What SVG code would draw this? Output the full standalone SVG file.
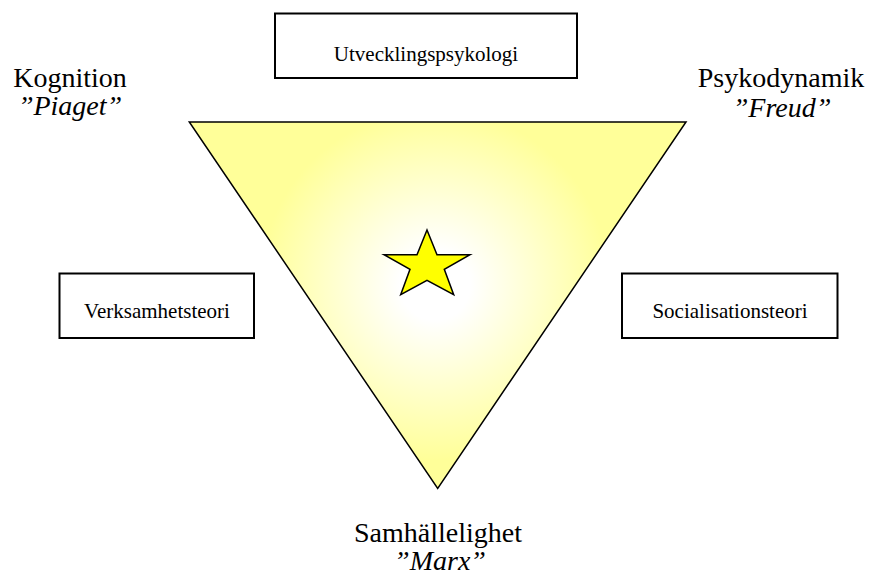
<svg xmlns="http://www.w3.org/2000/svg" width="872" height="575" viewBox="0 0 872 575">
<style>
text{font-family:'Liberation Serif','Times New Roman',Tinos,'DejaVu Serif',serif;fill:#000;text-anchor:middle}
.big{font-size:28px}
.it{font-style:italic}
.small{font-size:21px}
.box{fill:#fff;stroke:#000;stroke-width:2}
</style>
<defs>
<radialGradient id="glow" gradientUnits="userSpaceOnUse" cx="435" cy="285" r="175">
<stop offset="0" stop-color="#ffffff"/>
<stop offset="0.2" stop-color="#ffffff"/>
<stop offset="1" stop-color="#ffff99"/>
</radialGradient>
</defs>
<rect width="872" height="575" fill="#fff"/>
<g id="triangle">
<polygon points="189.3,122 686,122 437.7,488.3" fill="url(#glow)" stroke="#000" stroke-width="1.5"/>
</g>
<g id="star">
<polygon points="427,230 437,254.7 470,254.7 444.3,269.3 453.7,294.7 427,280.3 400.7,294.7 410,269.3 384,254.7 417,254.7" fill="#ffff00" stroke="#000" stroke-width="1.5"/>
</g>
<g id="utvecklingspsykologi">
<rect class="box" x="275" y="13.5" width="302" height="64.5"/>
<text class="small" x="426" y="61" font-family="Liberation Serif, serif">Utvecklingspsykologi</text>
</g>
<g id="verksamhetsteori">
<rect class="box" x="59.5" y="273.5" width="194.5" height="64.5"/>
<text class="small" x="157" y="318" font-family="Liberation Serif, serif">Verksamhetsteori</text>
</g>
<g id="socialisationsteori">
<rect class="box" x="622" y="273.5" width="215.5" height="64.5"/>
<text class="small" x="730" y="318" font-family="Liberation Serif, serif">Socialisationsteori</text>
</g>
<g id="kognition">
<text class="big" x="70" y="87" font-family="Liberation Serif, serif">Kognition</text>
<text class="big it" x="70" y="115" font-family="Liberation Serif, serif">”Piaget”</text>
</g>
<g id="psykodynamik">
<text class="big" x="781" y="87" font-family="Liberation Serif, serif">Psykodynamik</text>
<text class="big it" x="782" y="117" font-family="Liberation Serif, serif">”Freud”</text>
</g>
<g id="samhallelighet">
<text class="big" x="438" y="542" font-family="Liberation Serif, serif">Samhällelighet</text>
<text class="big it" x="440" y="570" font-family="Liberation Serif, serif">”Marx”</text>
</g>
</svg>
